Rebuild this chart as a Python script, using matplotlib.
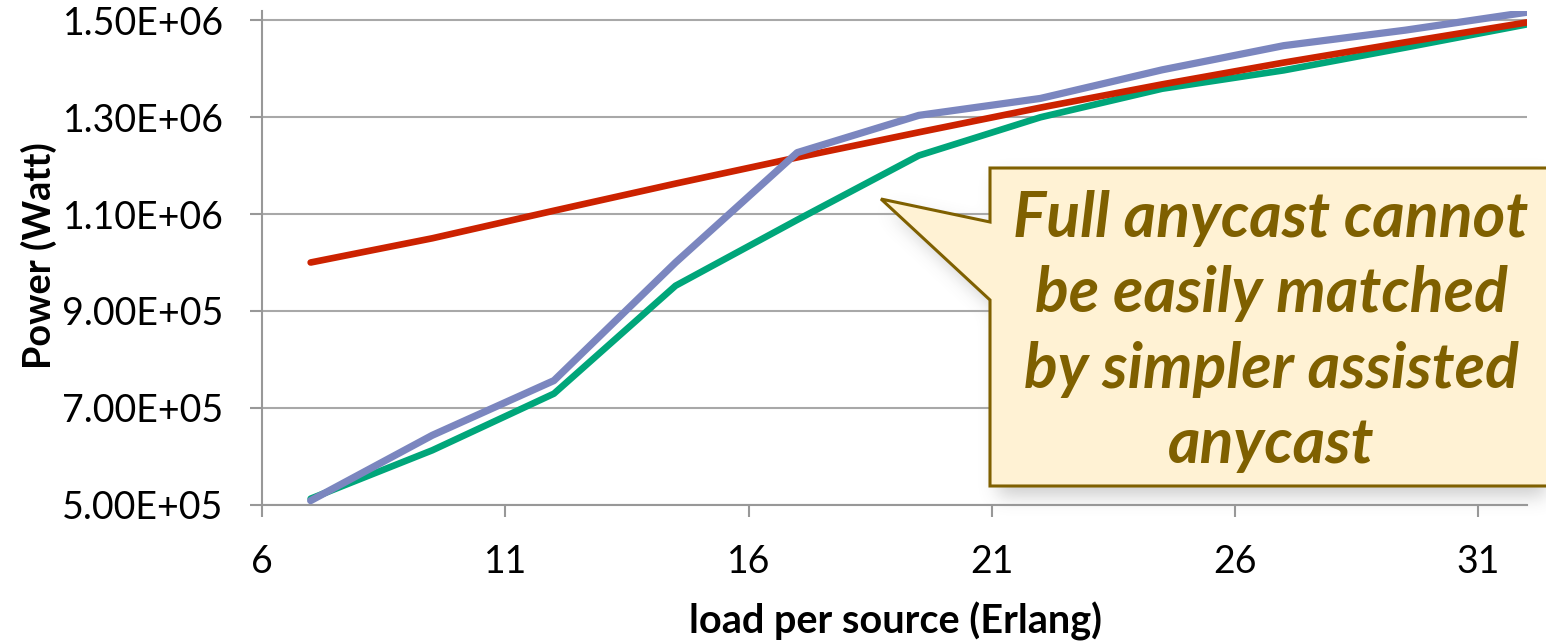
import numpy as np
import matplotlib
matplotlib.use('Agg')
import matplotlib.pyplot as plt
from matplotlib.patches import Polygon
from matplotlib.path import Path

plt.rcParams['font.family'] = ['Lato', 'DejaVu Sans']

# load per source (Erlang)
load = [7, 9.5, 12, 14.5, 17, 19.5, 22, 24.5, 27, 29.5, 32]

# power consumption (Watt) of the three schemes
power_red = [1.000e6, 1.050e6, 1.107e6, 1.163e6, 1.217e6, 1.269e6,
             1.320e6, 1.368e6, 1.413e6, 1.455e6, 1.496e6]
power_green = [5.12e5, 6.12e5, 7.29e5, 9.52e5, 1.088e6, 1.221e6,
               1.300e6, 1.359e6, 1.397e6, 1.444e6, 1.492e6]
power_blue = [5.08e5, 6.43e5, 7.56e5, 1.000e6, 1.227e6, 1.304e6,
              1.339e6, 1.398e6, 1.448e6, 1.480e6, 1.517e6]

x_ticks = [6, 11, 16, 21, 26, 31]
y_ticks = [5e5, 7e5, 9e5, 1.1e6, 1.3e6, 1.5e6]

callout_lines = ["Full anycast cannot", "be easily matched",
                 "by simpler assisted", "anycast"]

W, H = 1546, 643
fig = plt.figure(figsize=(W / 100, H / 100), dpi=100, facecolor='white')
ax = fig.add_axes([262 / W, 1 - 504.5 / H, 1265 / W, 493.7 / H])
ax.patch.set_facecolor('none')

ax.plot(load, power_green, color='#00A67A', lw=4.8, solid_capstyle='round', zorder=3)
ax.plot(load, power_red, color='#CC2200', lw=4.8, solid_capstyle='round', zorder=4)
ax.plot(load, power_blue, color='#7B86BF', lw=5.2, solid_capstyle='round', zorder=5)

ax.set_xlim(6, 32)
ax.set_ylim(5e5, 1.52e6)
ax.set_xticks(x_ticks)
ax.set_yticks(y_ticks)
ax.set_yticklabels(['{:.2E}'.format(v) for v in y_ticks])

axis_grey = '#989898'
ax.yaxis.grid(True, color='#A8A8A8', lw=1.5)
ax.set_axisbelow(True)
for s in ['top', 'right']:
    ax.spines[s].set_visible(False)
for s in ['left', 'bottom']:
    ax.spines[s].set_color(axis_grey)
    ax.spines[s].set_linewidth(1.5)
ax.tick_params(axis='both', direction='out', length=8.6, width=1.5,
               color=axis_grey, labelsize=27, labelcolor='black')
ax.tick_params(axis='y', pad=19)
ax.tick_params(axis='x', pad=20)

ax.set_xlabel('load per source (Erlang)', fontsize=28.5, fontweight='bold')
ax.xaxis.label.set_va('baseline')
ax.xaxis.set_label_coords(0.5004, -0.2603)
ax.set_ylabel('Power (Watt)', fontsize=27.3, fontweight='bold')
ax.yaxis.label.set_va('baseline')
ax.yaxis.set_label_coords(-0.1668, 0.5033)

# speech-bubble callout, outline given in pixels from the top-left corner
bubble_px = [(990, 168), (1552, 168), (1552, 486), (990, 486),
             (990, 300), (881, 199), (990, 222)]
bubble = [(x / W, 1 - y / H) for x, y in bubble_px]

# soft drop shadow under the bubble
yy, xx = np.mgrid[0:H, 0:W]
pts = np.column_stack([xx.ravel() + 0.5, yy.ravel() + 0.5])
shadow_path = Path([(x + 8, y + 10) for x, y in bubble_px] + [(bubble_px[0][0] + 8, bubble_px[0][1] + 10)])
mask = shadow_path.contains_points(pts).reshape(H, W).astype(float)
sig = 9
k = np.exp(-0.5 * (np.arange(-3 * sig, 3 * sig + 1) / sig) ** 2)
k /= k.sum()
mask = np.apply_along_axis(lambda r: np.convolve(r, k, mode='same'), 1, mask)
mask = np.apply_along_axis(lambda c: np.convolve(c, k, mode='same'), 0, mask)
shadow = np.zeros((H, W, 4))
shadow[..., :3] = 0.45
shadow[..., 3] = 0.35 * mask
fig.figimage(shadow, xo=0, yo=0, origin='upper', zorder=-1)

fig.add_artist(Polygon(bubble, closed=True, transform=fig.transFigure,
                       facecolor='#FFF2D4', edgecolor='#7F6000', lw=2.2,
                       joinstyle='miter', zorder=10, clip_on=False))
baselines = [237, 312, 388, 463]
for line, by in zip(callout_lines, baselines):
    fig.text(1271 / W, 1 - by / H, line, ha='center', va='baseline',
             fontsize=45, fontweight='bold', fontstyle='italic',
             color='#7F6000', zorder=11)

fig.savefig('out.png', dpi=100, facecolor='white')
